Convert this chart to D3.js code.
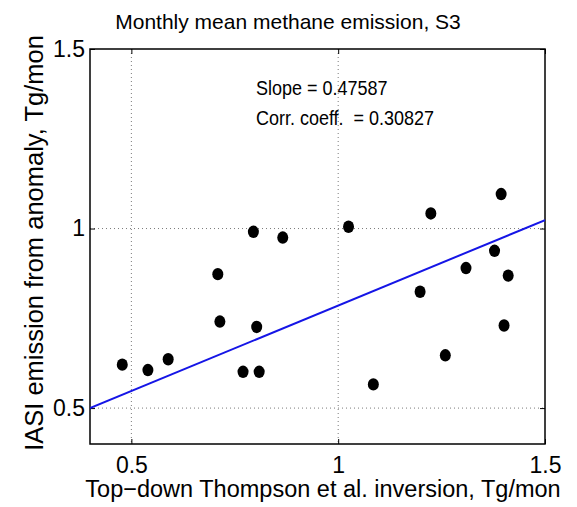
<!DOCTYPE html>
<html>
<head>
<meta charset="utf-8">
<script src="https://cdn.jsdelivr.net/npm/d3@7"></script>
<style>
  html, body { margin: 0; padding: 0; background: #fff; }
  svg { display: block; font-family: "Liberation Sans", Arial, Helvetica, sans-serif; }
</style>
</head>
<body>
<svg id="chart" width="577" height="507"></svg>
<script>
// Monthly mean emissions: top-down inversion (x) vs IASI anomaly estimate (y), Tg/mon
const inversion = [0.478, 0.540, 0.589, 0.709, 0.714, 0.795, 0.803, 0.770, 0.809, 0.866,
                   1.025, 1.224, 1.394, 1.378, 1.309, 1.411, 1.198, 1.401, 1.259, 1.085];
const iasi      = [0.621, 0.606, 0.636, 0.873, 0.741, 0.991, 0.726, 0.601, 0.601, 0.975,
                   1.005, 1.042, 1.096, 0.938, 0.890, 0.869, 0.824, 0.730, 0.647, 0.566];

const slope = 0.47587;
const corr = 0.30827;
const intercept = 0.3097;

const xTicks = [0.5, 1, 1.5];
const yTicks = [0.5, 1, 1.5];
const xDomain = [0.4, 1.5];
const yDomain = [0.4, 1.5];

const titleText = "Monthly mean methane emission, S3";
const xLabel = "Top\u2212down Thompson et al. inversion, Tg/mon";
const yLabel = "IASI emission from anomaly, Tg/mon";

const svg = d3.select("#chart");
const plot = { left: 90, top: 49, right: 545, bottom: 444 };

const x = d3.scaleLinear().domain(xDomain).range([plot.left, plot.right]);
const y = d3.scaleLinear().domain(yDomain).range([plot.bottom, plot.top]);

// dotted grid at tick positions
const grid = svg.append("g").attr("stroke", "#7a7a7a").attr("stroke-width", 1)
  .attr("stroke-dasharray", "1,3");
grid.selectAll("line.gx").data(xTicks.filter(t => t < xDomain[1])).join("line")
  .attr("x1", d => x(d)).attr("x2", d => x(d))
  .attr("y1", plot.top).attr("y2", plot.bottom);
grid.selectAll("line.gy").data(yTicks.filter(t => t < yDomain[1])).join("line")
  .attr("y1", d => y(d)).attr("y2", d => y(d))
  .attr("x1", plot.left).attr("x2", plot.right);

// axes with inward ticks on all four sides
const tickLen = 5;
const gBottom = svg.append("g").attr("transform", `translate(0,${plot.bottom})`)
  .call(d3.axisBottom(x).tickValues(xTicks).tickSizeInner(-tickLen).tickSizeOuter(0)
        .tickPadding(13).tickFormat(d3.format("")));
const gTop = svg.append("g").attr("transform", `translate(0,${plot.top})`)
  .call(d3.axisTop(x).tickValues(xTicks).tickSizeInner(-tickLen).tickSizeOuter(0).tickFormat(""));
const gLeft = svg.append("g").attr("transform", `translate(${plot.left},0)`)
  .call(d3.axisLeft(y).tickValues(yTicks).tickSizeInner(-tickLen).tickSizeOuter(0)
        .tickPadding(5).tickFormat(d3.format("")));
const gRight = svg.append("g").attr("transform", `translate(${plot.right},0)`)
  .call(d3.axisRight(y).tickValues(yTicks).tickSizeInner(-tickLen).tickSizeOuter(0).tickFormat(""));

[gBottom, gTop, gLeft, gRight].forEach(g => {
  g.select(".domain").remove();
  g.selectAll("line").attr("stroke", "#000").attr("stroke-width", 1);
  g.selectAll("text").attr("fill", "#000").attr("font-size", 23)
    .attr("font-family", "Liberation Sans, Arial, sans-serif");
});

// frame
svg.append("rect")
  .attr("x", plot.left).attr("y", plot.top)
  .attr("width", plot.right - plot.left).attr("height", plot.bottom - plot.top)
  .attr("fill", "none").attr("stroke", "#000").attr("stroke-width", 1.5);

// clip for the fit line
svg.append("clipPath").attr("id", "plotClip").append("rect")
  .attr("x", plot.left).attr("y", plot.top)
  .attr("width", plot.right - plot.left).attr("height", plot.bottom - plot.top);

// least-squares fit line
svg.append("path")
  .datum(xDomain)
  .attr("clip-path", "url(#plotClip)")
  .attr("d", d3.line().x(d => x(d)).y(d => y(slope * d + intercept)))
  .attr("fill", "none").attr("stroke", "#1515e6").attr("stroke-width", 2);

// data points
svg.append("g").selectAll("ellipse")
  .data(inversion.map((v, i) => [v, iasi[i]]))
  .join("ellipse")
  .attr("cx", d => x(d[0])).attr("cy", d => y(d[1]))
  .attr("rx", 5.5).attr("ry", 6.2)
  .attr("fill", "#000");

// statistics annotation (slightly tall glyphs)
svg.append("text").attr("transform", "translate(256,95) scale(1,1.15)")
  .attr("font-size", 18)
  .text(`Slope = ${slope}`);
svg.append("text").attr("transform", "translate(256,125) scale(1,1.15)")
  .attr("font-size", 18)
  .attr("xml:space", "preserve")
  .text(`Corr. coeff.  = ${corr}`);

// title and axis labels
svg.append("text").attr("x", 288).attr("y", 29).attr("text-anchor", "middle")
  .attr("font-size", 21).text(titleText);
svg.append("text").attr("x", 323).attr("y", 497).attr("text-anchor", "middle")
  .attr("font-size", 23.5).text(xLabel);
svg.append("text")
  .attr("transform", `translate(43,243) rotate(-90)`)
  .attr("text-anchor", "middle")
  .attr("font-size", 25.5).text(yLabel);
</script>
</body>
</html>
